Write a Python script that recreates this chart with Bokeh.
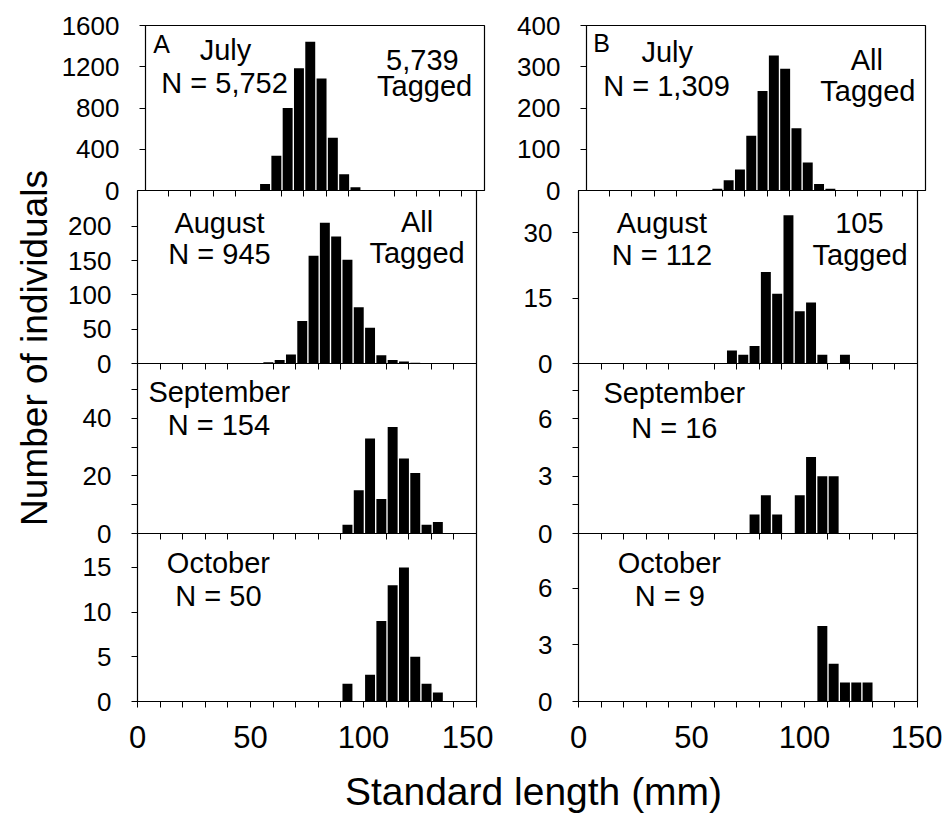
import math
from bokeh.plotting import figure
from bokeh.models import Range1d, FixedTicker, Label
from bokeh.layouts import row, column
from bokeh.embed import file_html
from bokeh.resources import INLINE

FONT = "Liberation Sans"

# ---------------- data ----------------
x_major_ticks = [0, 50, 100, 150]
x_minor_ticks = [10, 20, 30, 40, 60, 70, 80, 90, 110, 120, 130, 140]

# Panel A (left column): bin lower edges (mm) and counts
a_jul_edges = [50, 55, 60, 65, 70, 75, 80, 85, 90, 95, 100]
a_jul_counts = [64, 337, 800, 1185, 1443, 1086, 511, 157, 32, 6, 2]
a_aug_edges = [55, 60, 65, 70, 75, 80, 85, 90, 95, 100, 105, 110, 115, 120]
a_aug_counts = [2, 5, 13, 62, 157, 205, 185, 151, 82, 52, 12, 5, 3, 1]
a_sep_edges = [90, 95, 100, 105, 110, 115, 120, 125, 130]
a_sep_counts = [3, 15, 33, 12, 37, 26, 21, 3, 4]
a_oct_edges = [90, 95, 100, 105, 110, 115, 120, 125, 130]
a_oct_counts = [2, 0, 3, 9, 13, 15, 5, 2, 1]

# Panel B (right column)
b_jul_edges = [55, 60, 65, 70, 75, 80, 85, 90, 95, 100, 105, 110]
b_jul_counts = [4, 25, 51, 133, 241, 327, 295, 151, 68, 16, 4, 1]
b_aug_edges = [65, 70, 75, 80, 85, 90, 95, 100, 105, 110, 115]
b_aug_counts = [3, 2, 4, 21, 16, 34, 12, 14, 2, 0, 2]
b_sep_edges = [75, 80, 85, 90, 95, 100, 105, 110]
b_sep_counts = [1, 2, 1, 0, 2, 4, 3, 3]
b_oct_edges = [105, 110, 115, 120, 125]
b_oct_counts = [4, 2, 1, 1, 1]

# y axes
a_jul_yticks = [0, 400, 800, 1200, 1600]
a_aug_yticks = [0, 50, 100, 150, 200]
a_sep_yticks = [0, 20, 40]
a_sep_yminor = [10, 30, 50]
a_oct_yticks = [0, 5, 10, 15]
b_jul_yticks = [0, 100, 200, 300, 400]
b_aug_yticks = [0, 15, 30]
b_sep_yticks = [0, 3, 6]
b_sep_yminor = [1.5, 4.5, 7.5]
b_oct_yticks = [0, 3, 6]

y_label = "Number of individuals"
x_label = "Standard length (mm)"

# ---------------- layout ----------------
FRAME_W = 339
TOP = 25
ROW_H = [165, 173, 170, 168]
BOTTOM = 60
OVER = 16  # overlap between stacked rows so boundary tick labels are not cut
SHIFT = 0.36  # svg baseline compensation (fraction of font size)

row_top = [TOP + sum(ROW_H[:i]) for i in range(4)]


def make_panel(edges, counts, ymax, yticks, yminor, row_i, left, texts):
    last = row_i == 3
    p = figure(
        frame_width=FRAME_W, frame_height=ROW_H[row_i],
        x_range=Range1d(0, 150), y_range=Range1d(0, ymax),
        toolbar_location=None, output_backend="svg",
        min_border_left=79 if left else 85,
        min_border_right=17 if left else 25,
        min_border_top=TOP if row_i == 0 else 0,
        min_border_bottom=BOTTOM if last else OVER,
    )
    p.background_fill_alpha = 0
    p.border_fill_alpha = 0
    p.outline_line_color = "black"
    p.outline_line_width = 1.2
    p.grid.visible = False

    p.vbar(x=[e + 2.9 for e in edges], top=counts, bottom=0, width=4.4,
           fill_color="black", line_color=None)

    xa = p.xaxis[0]
    if last:
        xa.ticker = FixedTicker(ticks=x_major_ticks, minor_ticks=x_minor_ticks)
    else:
        xa.ticker = FixedTicker(ticks=[], minor_ticks=x_minor_ticks)
    xa.major_tick_out = 6
    xa.major_tick_in = 0
    xa.minor_tick_out = 6
    xa.minor_tick_in = 0
    xa.major_label_standoff = 18
    xa.major_label_text_font = FONT
    xa.major_label_text_font_size = "31px"
    xa.major_label_text_color = "black"
    xa.axis_line_color = "black"
    xa.major_tick_line_color = "black"
    xa.minor_tick_line_color = "black"

    ya = p.yaxis[0]
    ya.ticker = FixedTicker(ticks=yticks, minor_ticks=yminor)
    ya.major_tick_out = 6
    ya.major_tick_in = 0
    ya.minor_tick_out = 6
    ya.minor_tick_in = 0
    ya.major_label_standoff = 20
    ya.major_label_text_font = FONT
    ya.major_label_text_font_size = "26px"
    ya.major_label_text_color = "black"
    ya.axis_line_color = "black"
    ya.major_tick_line_color = "black"
    ya.minor_tick_line_color = "black"

    # texts: (text, x in mm, baseline in page px, align, font px)
    top_px = row_top[row_i]
    h = ROW_H[row_i]
    for (txt, x, base_px, align, fs) in texts:
        y_px = base_px - SHIFT * fs
        y = (top_px + h - y_px) / h * ymax
        p.add_layout(Label(x=x, y=y, text=txt, text_align=align,
                           text_baseline="alphabetic", text_font=FONT,
                           text_font_size=f"{fs}px", text_color="black"))
    return p


S = 29
a1 = make_panel(a_jul_edges, a_jul_counts, 1600, a_jul_yticks, [], 0, True, [
    ("A", 3.4, 52, "left", 25),
    ("July", 35.4, 60, "center", S),
    ("N = 5,752", 35.0, 92.7, "center", S),
    ("5,739", 122.5, 70, "center", S),
    ("Tagged", 123.5, 95.7, "center", S),
])
a2 = make_panel(a_aug_edges, a_aug_counts, 252, a_aug_yticks, [], 1, True, [
    ("August", 36.3, 233.3, "center", S),
    ("N = 945", 36.3, 264, "center", S),
    ("All", 123.7, 231.7, "center", S),
    ("Tagged", 123.7, 262.7, "center", S),
])
a3 = make_panel(a_sep_edges, a_sep_counts, 59, a_sep_yticks, a_sep_yminor, 2, True, [
    ("September", 36.2, 401.7, "center", S),
    ("N = 154", 36.0, 435, "center", S),
])
a4 = make_panel(a_oct_edges, a_oct_counts, 18.8, a_oct_yticks, [], 3, True, [
    ("October", 35.8, 573.3, "center", S),
    ("N = 50", 35.8, 606, "center", S),
])
b1 = make_panel(b_jul_edges, b_jul_counts, 400, b_jul_yticks, [], 0, False, [
    ("B", 3.0, 51.7, "left", 25),
    ("July", 35.7, 61.7, "center", S),
    ("N = 1,309", 35.4, 96, "center", S),
    ("All", 124.0, 70, "center", S),
    ("Tagged", 124.5, 100.7, "center", S),
])
b2 = make_panel(b_aug_edges, b_aug_counts, 39.7, b_aug_yticks, [], 1, False, [
    ("August", 36.9, 233.3, "center", S),
    ("N = 112", 36.9, 265, "center", S),
    ("105", 124.3, 233.3, "center", S),
    ("Tagged", 124.6, 265, "center", S),
])
b3 = make_panel(b_sep_edges, b_sep_counts, 8.9, b_sep_yticks, b_sep_yminor, 2, False, [
    ("September", 42.4, 403.3, "center", S),
    ("N = 16", 42.4, 438.3, "center", S),
])
b4 = make_panel(b_oct_edges, b_oct_counts, 8.9, b_oct_yticks, [], 3, False, [
    ("October", 40.2, 572.7, "center", S),
    ("N = 9", 40.4, 606, "center", S),
])

rows = [
    row(a1, b1),
    row(a2, b2, margin=(-OVER, 0, 0, 0)),
    row(a3, b3, margin=(-OVER, 0, 0, 0)),
    row(a4, b4, margin=(-OVER, 0, 0, 0)),
]
grid = column(*rows)

GRID_H = TOP + sum(ROW_H) + BOTTOM  # 761
YT_W = 58

yt = figure(frame_width=YT_W, frame_height=GRID_H, x_range=Range1d(0, YT_W),
            y_range=Range1d(0, GRID_H), toolbar_location=None,
            output_backend="svg", x_axis_location=None, y_axis_location=None,
            min_border=0)
yt.outline_line_color = None
yt.grid.visible = False
yt.background_fill_alpha = 0
yt.border_fill_alpha = 0
YFS = 37
yt.add_layout(Label(x=47 - SHIFT * YFS, y=GRID_H - 347.5, text=y_label,
                    angle=math.pi / 2, text_align="center",
                    text_baseline="alphabetic", text_font=FONT,
                    text_font_size=f"{YFS}px", text_color="black"))

XT_W, XT_H = 942, 54
xt = figure(frame_width=XT_W, frame_height=XT_H, x_range=Range1d(0, XT_W),
            y_range=Range1d(0, XT_H), toolbar_location=None,
            output_backend="svg", x_axis_location=None, y_axis_location=None,
            min_border=0)
xt.outline_line_color = None
xt.grid.visible = False
xt.background_fill_alpha = 0
xt.border_fill_alpha = 0
XFS = 39
xt.add_layout(Label(x=533, y=(GRID_H + XT_H) - (805 - SHIFT * XFS), text=x_label,
                    text_align="center", text_baseline="alphabetic",
                    text_font=FONT, text_font_size=f"{XFS}px",
                    text_color="black"))

layout = column(row(yt, grid), xt)

open("out.html", "w").write(file_html(layout, INLINE))
